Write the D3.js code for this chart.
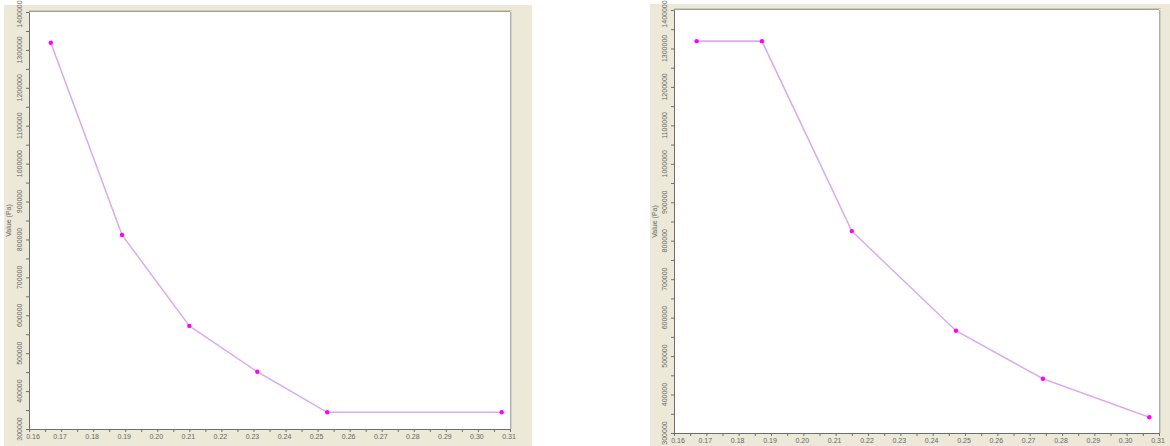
<!DOCTYPE html>
<html>
<head>
<meta charset="utf-8">
<script src="https://cdn.jsdelivr.net/npm/d3@7"></script>
<style>
  html, body { margin: 0; padding: 0; background: #ffffff; }
  svg { display: block; }
  text { font-family: "Liberation Sans", Arial, sans-serif; }
</style>
</head>
<body>
<svg id="chart" width="1170" height="446"></svg>
<script>
// ---- data ----
const xTickValues = [0.16, 0.17, 0.18, 0.19, 0.20, 0.21, 0.22, 0.23, 0.24, 0.25, 0.26, 0.27, 0.28, 0.29, 0.30, 0.31];
const yTickValues = [300000, 400000, 500000, 600000, 700000, 800000, 900000, 1000000, 1100000, 1200000, 1300000, 1400000];
const yAxisTitle = "Value (Pa)";

const leftX = [0.1668, 0.1890, 0.2100, 0.2312, 0.2530, 0.3074];
const leftY = [1319000, 812000, 572000, 451000, 344000, 344000];

const rightX = [0.1670, 0.1872, 0.2150, 0.2472, 0.2741, 0.3070];
const rightY = [1319000, 1319000, 825000, 566000, 441000, 341000];

// ---- drawing ----
const svg = d3.select("#chart");

function drawChart(cfg, xs, ys) {
  const g = svg.append("g");
  // beige panel
  g.append("rect")
    .attr("x", cfg.panel[0]).attr("y", cfg.panel[1])
    .attr("width", cfg.panel[2] - cfg.panel[0]).attr("height", cfg.panel[3] - cfg.panel[1])
    .attr("fill", "#ECE9D8");

  const x = d3.scaleLinear().domain([0.16, 0.31]).range([cfg.left, cfg.right]);
  const y = d3.scaleLinear().domain([300000, 1400000]).range([cfg.bottom, cfg.top]);

  // plot area
  g.append("rect")
    .attr("x", cfg.left).attr("y", cfg.top)
    .attr("width", cfg.right - cfg.left).attr("height", cfg.bottom - cfg.top)
    .attr("fill", "#ffffff");
  // top border (tan + grey)
  g.append("line").attr("x1", cfg.left).attr("x2", cfg.right + 2)
    .attr("y1", cfg.top - 1.5).attr("y2", cfg.top - 1.5)
    .attr("stroke", "#d6c9a8").attr("stroke-width", 1);
  g.append("line").attr("x1", cfg.left).attr("x2", cfg.right)
    .attr("y1", cfg.top - 0.5).attr("y2", cfg.top - 0.5)
    .attr("stroke", "#a0a0a0").attr("stroke-width", 1);
  // right border (shadow)
  g.append("line").attr("x1", cfg.right + 0.5).attr("x2", cfg.right + 0.5)
    .attr("y1", cfg.top).attr("y2", cfg.bottom)
    .attr("stroke", "#b0b0b0").attr("stroke-width", 1);
  g.append("line").attr("x1", cfg.right + 1.5).attr("x2", cfg.right + 1.5)
    .attr("y1", cfg.top).attr("y2", cfg.bottom)
    .attr("stroke", "#d4d0c8").attr("stroke-width", 1);

  // Y axis
  const yMinor = d3.range(300000, 1400001, 50000);
  const yAxis = d3.axisLeft(y).tickValues(yMinor).tickSize(3)
    .tickFormat(() => "");
  const ya = g.append("g").attr("transform", `translate(${cfg.left},0)`).call(yAxis);
  ya.select(".domain").attr("stroke", "#6e6e6e");
  ya.selectAll(".tick line").attr("stroke", "#6e6e6e");

  // Y tick labels (rotated)
  g.selectAll(".ylab").data(yTickValues).enter().append("text")
    .attr("transform", d => `translate(${cfg.left - 7},${Math.max(y(d), 14)}) rotate(-90)`)
    .attr("text-anchor", "middle")
    .attr("font-size", 7)
    .attr("fill", "#666")
    .text(d => d3.format("d")(d));

  // Y axis title
  g.append("text")
    .attr("transform", `translate(${cfg.panel[0] + 7},${(cfg.top + cfg.bottom) / 2}) rotate(-90)`)
    .attr("text-anchor", "middle")
    .attr("font-size", 7)
    .attr("fill", "#666")
    .text(yAxisTitle);

  // X axis
  const xMinor = d3.range(0, 31).map(i => 0.16 + i * 0.005);
  const xAxis = d3.axisBottom(x).tickValues(xMinor).tickSize(3).tickFormat(() => "");
  const xa = g.append("g").attr("transform", `translate(0,${cfg.bottom})`).call(xAxis);
  xa.select(".domain").attr("stroke", "#6e6e6e");
  xa.selectAll(".tick line").attr("stroke", "#6e6e6e");

  g.selectAll(".xlab").data(xTickValues).enter().append("text")
    .attr("x", d => x(d) + (d === 0.16 ? 4 : -1))
    .attr("y", cfg.bottom + 10)
    .attr("text-anchor", "middle")
    .attr("font-size", 7)
    .attr("fill", "#666")
    .text(d => d3.format(".2f")(d));

  // series
  const pts = xs.map((v, i) => [v, ys[i]]);
  const line = d3.line().x(d => x(d[0])).y(d => y(d[1]));
  g.append("path").datum(pts).attr("d", line)
    .attr("fill", "none").attr("stroke", "#dcbcfd").attr("stroke-width", 1.6);
  g.append("path").datum(pts).attr("d", line)
    .attr("fill", "none").attr("stroke", "#e060c8").attr("stroke-width", 0.6).attr("stroke-opacity", 0.45);
  g.selectAll(".pt").data(pts).enter().append("circle")
    .attr("cx", d => x(d[0])).attr("cy", d => y(d[1]))
    .attr("r", 2.2).attr("fill", "#ff00ff");
}

drawChart({ panel: [4, 5, 532, 446], left: 29, right: 510, top: 12, bottom: 429 }, leftX, leftY);
drawChart({ panel: [650, 4, 1170, 446], left: 674, right: 1159, top: 10, bottom: 433 }, rightX, rightY);
</script>
</body>
</html>
